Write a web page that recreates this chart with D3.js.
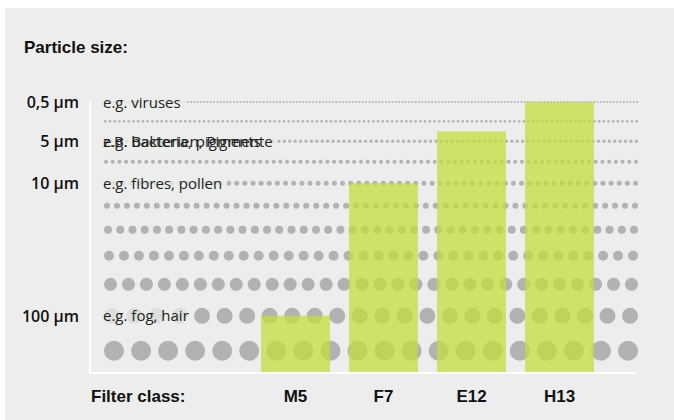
<!DOCTYPE html>
<html>
<head>
<meta charset="utf-8">
<script src="https://cdn.jsdelivr.net/npm/d3@7/dist/d3.min.js"></script>
<style>
  body { margin: 0; background: #fff; }
  svg { display: block; }
</style>
</head>
<body>
<svg id="chart"></svg>
<script>
// filter classes and the finest particle row each one still catches (0 = finest)
const filterClasses = ['M5', 'F7', 'E12', 'H13'];
const filterReach = [9, 4, 1.5, 0];

// one row of dots per particle size, finest first
const particleSize = [1.0, 1.3, 1.6, 2.0, 2.5, 3.0, 4.0, 5.0, 6.5, 8.0, 10.0];
const dotsPerRow = [162, 114, 99, 80, 66, 54, 44, 36, 30, 24, 20];

// size ticks and their example labels
const tickRows = [0, 2, 4, 9];
const tickLabels = ['0,5 µm', '5 µm', '10 µm', '100 µm'];
const exampleLabels = [
  ['e.g. viruses'],
  ['e.g. bacteria, pigments', 'z.B. Bakterien, Pigmente'],
  ['e.g. fibres, pollen'],
  ['e.g. fog, hair']
];

const width = 674, height = 420;
const bg = '#ecedec', dotColor = '#b1b2b1';
const plotLeft = 104, plotRight = 638, baseY = 372, rowGap = 17;

const svg = d3.select('#chart')
  .attr('width', width)
  .attr('height', height);

// panel background
svg.append('rect')
  .attr('x', 5).attr('y', 8)
  .attr('width', width - 5).attr('height', height - 8)
  .attr('fill', bg);

// title
svg.append('text')
  .attr('x', 24).attr('y', 53)
  .attr('font-family', '"Liberation Sans Narrow", "Arial Narrow", sans-serif')
  .attr('font-weight', 'bold')
  .attr('font-size', 17)
  .attr('fill', '#111')
  .text('Particle size:');

// radius scale + row positions (rows stacked with a constant gap)
const r = d3.scaleLinear().domain([0, 10]).range([0, 10]);
const rowY = [];
particleSize.forEach((s, i) => {
  if (i === 0) rowY.push(102);
  else rowY.push(rowY[i - 1] + r(particleSize[i - 1]) + r(s) + rowGap);
});
const y = d3.scaleLinear().domain(d3.range(particleSize.length)).range(rowY);

// white axis frame
svg.append('path')
  .attr('d', `M90,101V${baseY + 1}H636`)
  .attr('fill', 'none')
  .attr('stroke', '#fff')
  .attr('stroke-width', 2);

// dot rows
const rows = svg.append('g');
particleSize.forEach((s, i) => {
  const rad = r(s);
  const x = d3.scaleLinear()
    .domain([0, dotsPerRow[i] - 1])
    .range([plotLeft + rad, plotRight - rad]);
  rows.append('g').selectAll('circle')
    .data(d3.range(dotsPerRow[i]))
    .enter()
    .append('circle')
    .attr('cx', d => x(d))
    .attr('cy', y(i))
    .attr('r', rad)
    .attr('fill', dotColor);
});

// size ticks on the left
svg.append('g').selectAll('text')
  .data(tickRows)
  .enter()
  .append('text')
  .attr('x', 79)
  .attr('y', d => y(d) + 6)
  .attr('text-anchor', 'end')
  .attr('font-family', '"Open Sans", sans-serif')
  .attr('font-weight', 600)
  .attr('font-size', 16)
  .attr('fill', '#111')
  .text((d, i) => tickLabels[i]);

// example labels with a soft backdrop over the dots
const labels = svg.append('g');
tickRows.forEach((row, i) => {
  const g = labels.append('g');
  const back = g.append('rect');
  const texts = exampleLabels[i].map(t => g.append('text')
    .attr('x', 103)
    .attr('y', y(row) + 5.5)
    .attr('font-family', '"Open Sans", sans-serif')
    .attr('font-size', 15)
    .attr('fill', '#222')
    .text(t));
  const w = d3.max(texts, t => t.node().getComputedTextLength());
  back.attr('x', 100).attr('y', y(row) - 11)
    .attr('width', w + 8).attr('height', 22)
    .attr('fill', bg).attr('opacity', 0.75);
});

// bars
const x = d3.scaleBand()
  .domain(filterClasses)
  .range([261, 594])
  .paddingInner(0.216)
  .paddingOuter(0);

svg.append('g').selectAll('rect')
  .data(filterClasses)
  .enter()
  .append('rect')
  .attr('x', d => x(d))
  .attr('y', (d, i) => y(filterReach[i]))
  .attr('width', x.bandwidth())
  .attr('height', (d, i) => baseY - y(filterReach[i]))
  .attr('fill', '#c5dc3c')
  .attr('opacity', 0.75);

// x labels
const foot = svg.append('g')
  .attr('font-family', '"Liberation Sans Narrow", "Arial Narrow", sans-serif')
  .attr('font-weight', 'bold')
  .attr('font-size', 17)
  .attr('fill', '#111');

foot.append('text')
  .attr('x', 91).attr('y', 402)
  .text('Filter class:');

foot.selectAll('.cls')
  .data(filterClasses)
  .enter()
  .append('text')
  .attr('class', 'cls')
  .attr('x', d => x(d) + x.bandwidth() / 2)
  .attr('y', 402)
  .attr('text-anchor', 'middle')
  .text(d => d);
</script>
</body>
</html>
